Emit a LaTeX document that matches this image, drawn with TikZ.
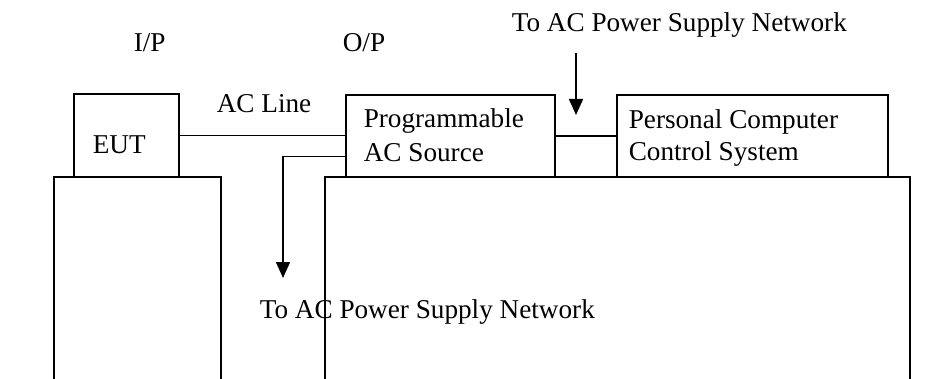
\documentclass[tikz,border=0pt]{standalone}
\usepackage{fontspec}
\setmainfont{Liberation Serif}
\usetikzlibrary{arrows.meta,calc}
\begin{document}
\begin{tikzpicture}[x=1pt,y=-1pt,
  line width=1.6pt,
  lbl/.style={anchor=base west,inner sep=0pt,font=\fontsize{27.2}{32.6}\selectfont},
  blk/.style={draw,anchor=north west,inner sep=0pt,outer sep=0pt},
  arr/.style={-{Triangle[length=16pt,width=14pt]}}]
\useasboundingbox (0,0) rectangle (949,379);
% boxes
\node[blk,minimum width=105pt,minimum height=83pt] (eut) at (74,94) {};
\node[blk,minimum width=209pt,minimum height=82pt] (prog) at (346,95) {};
\node[blk,minimum width=271pt,minimum height=82pt] (pc) at (617,95) {};
% large open bases
\draw (54,379) -- (54,177) -- (221,177) -- (221,379);
\draw (325,379) -- (325,177) -- (910,177) -- (910,379);
% texts
\node[lbl] (ip) at (133,52) {I/P};
\node[lbl] (op) at (342,52) {O/P};
\node[lbl] (topnet) at (511,32) {To AC Power Supply Network};
\node[lbl] (acline) at (216,113) {AC Line};
\node[lbl] (euttxt) at (92,154) {EUT};
\node[lbl] (prog1) at (363,128) {Programmable};
\node[lbl] (prog2) at (363,162) {AC Source};
\node[lbl] (pc1) at (628,129) {Personal Computer};
\node[lbl] (pc2) at (628,161) {Control System};
\node[lbl] (botnet) at (259,318) {To AC Power Supply Network};
% connectors
\draw (eut.east) -- (eut.east -| prog.west);
\draw (prog.east) -- (pc.west);
\coordinate (botin) at (283,278);
\draw[arr] ($(prog.south west)+(0,-20.5)$) -| (botin);
\coordinate (topfrom) at (576,53);
\coordinate (topin) at (576,115);
\draw[arr] (topfrom) -- (topin);
\end{tikzpicture}
\end{document}
